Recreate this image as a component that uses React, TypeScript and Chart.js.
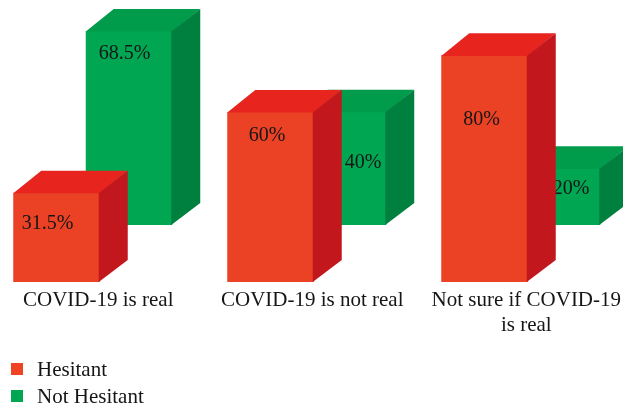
import React, { useEffect, useRef } from "react";
import { Chart, registerables } from "chart.js";

Chart.register(...registerables);

// ---- data ----
const categoryLines: string[][] = [
  ["COVID-19 is real"],
  ["COVID-19 is not real"],
  ["Not sure if COVID-19", "is real"],
];
const seriesNames = ["Hesitant", "Not Hesitant"];
const hesitant = [31.5, 60, 80];
const notHesitant = [68.5, 40, 20];

// ---- styling ----
const FONT = "'Liberation Serif', 'Times New Roman', serif";
const DEPTH_X = 28;
const DEPTH_Y = 22;

const bar3dPlugin = {
  id: "bar3d",
  afterDatasetDraw(chart: any, args: any, opts: any) {
    const ctx = chart.ctx as CanvasRenderingContext2D;
    const idx = args.index;
    const face = opts.faces[idx];
    const offs = opts.labelOffsets[idx];
    const ds = chart.data.datasets[idx];
    ctx.save();
    args.meta.data.forEach((bar: any, i: number) => {
      const { x, y, base, width } = bar.getProps(["x", "y", "base", "width"], true);
      const l = x - width / 2;
      const r = x + width / 2;
      // top face
      ctx.fillStyle = face.top;
      ctx.beginPath();
      ctx.moveTo(l, y + 0.6);
      ctx.lineTo(l + DEPTH_X, y - DEPTH_Y);
      ctx.lineTo(r + DEPTH_X, y - DEPTH_Y);
      ctx.lineTo(r, y + 0.6);
      ctx.closePath();
      ctx.fill();
      // side face
      ctx.fillStyle = face.side;
      ctx.beginPath();
      ctx.moveTo(r - 1, y + 0.6);
      ctx.lineTo(r + DEPTH_X, y - DEPTH_Y);
      ctx.lineTo(r + DEPTH_X, base - DEPTH_Y);
      ctx.lineTo(r - 1, base);
      ctx.closePath();
      ctx.fill();
      // value label
      const v = ds.data[i];
      ctx.fillStyle = "#161616";
      ctx.font = `20px ${FONT}`;
      ctx.textAlign = "center";
      ctx.textBaseline = "middle";
      ctx.fillText(`${v}%`, x + offs[i][0], y + offs[i][1]);
    });
    ctx.restore();
  },
};

const stackedLegendPlugin = {
  id: "stackedLegend",
  afterDraw(chart: any, _args: any, opts: any) {
    const ctx = chart.ctx as CanvasRenderingContext2D;
    ctx.save();
    chart.data.datasets.forEach((ds: any, i: number) => {
      const baseY = opts.firstBaseline + i * opts.rowGap;
      ctx.fillStyle = opts.boxColors[i];
      ctx.fillRect(opts.boxX, baseY - 13, 12, 12);
      ctx.fillStyle = "#161616";
      ctx.font = `21px ${FONT}`;
      ctx.textAlign = "left";
      ctx.textBaseline = "alphabetic";
      ctx.fillText(ds.label, opts.textX, baseY);
    });
    ctx.restore();
  },
};

export default function App() {
  const ref = useRef<HTMLCanvasElement | null>(null);

  useEffect(() => {
    document.body.style.margin = "0";
    if (!ref.current) return;
    const chart = new Chart(ref.current, {
      type: "bar",
      data: {
        labels: categoryLines,
        datasets: [
          {
            label: seriesNames[0],
            data: hesitant,
            backgroundColor: "#EB4125",
            borderWidth: 0,
            yAxisID: "y",
            clip: false as any,
          },
          {
            label: seriesNames[1],
            data: notHesitant,
            backgroundColor: "#00A651",
            borderWidth: 0,
            yAxisID: "y2",
            clip: false as any,
          },
        ],
      },
      options: {
        responsive: false,
        maintainAspectRatio: false,
        animation: false,
        devicePixelRatio: 1,
        events: [],
        categoryPercentage: 0.6776,
        barPercentage: 1.193,
        layout: { padding: { left: 92.75, right: 102.25, top: 10, bottom: 0 } },
        scales: {
          x: {
            type: "category",
            offset: false,
            grid: { display: false, drawTicks: false },
            border: { display: false },
            ticks: {
              padding: 6,
              labelOffset: 5.5,
              color: "#161616",
              autoSkip: false,
              maxRotation: 0,
              minRotation: 0,
              font: { family: FONT, size: 21 },
            },
            afterFit: (s: any) => {
              s.height = 124;
            },
          },
          y: { display: false, min: 0, max: 96 },
          y2: { display: false, min: -20.12, max: 75.88 },
        },
        plugins: {
          legend: { display: false },
          tooltip: { enabled: false },
          bar3d: {
            faces: [
              { top: "#E8241F", side: "#C3171E" },
              { top: "#009C4B", side: "#00803F" },
            ],
            labelOffsets: [
              [[-9, 31], [-3.5, 23.5], [-3, 64]],
              [[-4.5, 23], [20, 51], [14, 20]],
            ],
          },
          stackedLegend: {
            boxColors: ["#EE4423", "#00A651"],
            boxX: 11,
            textX: 37,
            firstBaseline: 376,
            rowGap: 27,
          },
        } as any,
      } as any,
      plugins: [bar3dPlugin, stackedLegendPlugin],
    });
    return () => chart.destroy();
  }, []);

  return (
    <div style={{ position: "absolute", left: 0, top: 0, width: 623, height: 406, background: "#fff" }}>
      <canvas ref={ref} width={623} height={406} style={{ display: "block" }} />
    </div>
  );
}
